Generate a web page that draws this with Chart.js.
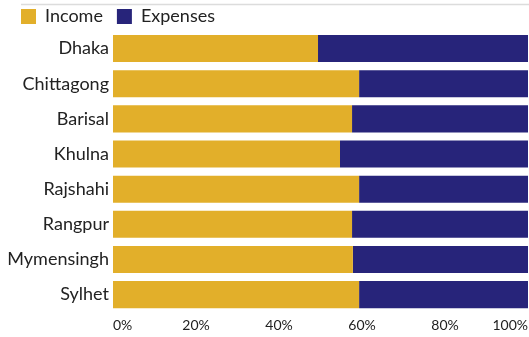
<!DOCTYPE html>
<html>
<head>
<meta charset="utf-8">
<script src="https://cdn.jsdelivr.net/npm/chart.js@4.4.1/dist/chart.umd.min.js"></script>
<style>
  html, body { margin: 0; padding: 0; background: #fff; overflow: hidden; }
  canvas { display: block; }
</style>
</head>
<body>
<canvas id="chart" width="529" height="337"></canvas>
<script>
// Share of income vs. expenses by division (percent)
const divisions = ['Dhaka', 'Chittagong', 'Barisal', 'Khulna', 'Rajshahi', 'Rangpur', 'Mymensingh', 'Sylhet'];
const income   = [49.4, 59.3, 57.6, 54.7, 59.3, 57.6, 57.8, 59.3];
const expenses = [50.6, 40.7, 42.4, 45.3, 40.7, 42.4, 42.2, 40.7];
const tickValues = [0, 20, 40, 60, 80, 100];

const GOLD = '#E2AF2A';
const NAVY = '#27247A';
const FONT = 'Lato, "Open Sans", sans-serif';

// thin rule across the top of the figure
const topRule = {
  id: 'topRule',
  beforeDraw(chart) {
    const ctx = chart.ctx;
    ctx.save();
    ctx.strokeStyle = '#dcdcdc';
    ctx.lineWidth = 1.5;
    ctx.beginPath();
    ctx.moveTo(21, 4.5);
    ctx.lineTo(chart.width, 4.5);
    ctx.stroke();
    ctx.restore();
  }
};

new Chart(document.getElementById('chart'), {
  type: 'bar',
  data: {
    labels: divisions,
    datasets: [
      { label: 'Income', data: income, backgroundColor: GOLD },
      { label: 'Expenses', data: expenses, backgroundColor: NAVY }
    ]
  },
  options: {
    indexAxis: 'y',
    responsive: false,
    animation: false,
    datasets: { bar: { categoryPercentage: 1, barPercentage: 0.77 } },
    layout: { padding: { left: 7, right: 1, top: -6.5, bottom: -2 } },
    plugins: {
      legend: {
        position: 'top',
        align: 'start',
        maxHeight: 37.5,
        labels: {
          boxWidth: 15,
          boxHeight: 15,
          padding: 14,
          color: '#222',
          font: { family: FONT, size: 18 }
        }
      },
      tooltip: { enabled: false }
    },
    scales: {
      x: {
        stacked: true,
        min: 0,
        max: 100,
        afterBuildTicks(scale) { scale.ticks = tickValues.map(v => ({ value: v })); },
        // end labels sit inside the axis, so no side padding is needed
        afterFit(scale) { scale.paddingLeft = 0; scale.paddingRight = 0; },
        grid: { display: false, drawTicks: false },
        border: { display: false },
        ticks: {
          align: 'inner',
          padding: 5,
          color: '#222',
          font: { family: FONT, size: 14 },
          callback: v => v + '%'
        }
      },
      y: {
        stacked: true,
        afterFit(scale) { scale.width = 106; },
        grid: { display: false, drawTicks: false },
        border: { display: false },
        ticks: {
          padding: 4,
          color: '#222',
          font: { family: FONT, size: 18 }
        }
      }
    }
  },
  plugins: [topRule]
});
</script>
</body>
</html>
